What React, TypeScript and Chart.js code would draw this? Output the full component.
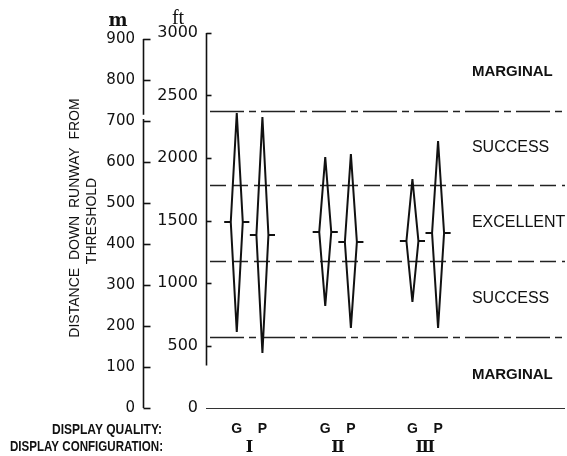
import React, { useEffect, useRef } from 'react';
import { Chart, registerables } from 'chart.js';

Chart.register(...registerables);

// ---- data (feet) ----
const configLabels = ['Ⅰ', 'Ⅱ', 'Ⅲ'];
const qualityLabels = ['G', 'P'];
const gX = [1.2, 4.65, 8.05];
const pX = [2.2, 5.65, 9.05];
const gTop = [2360, 2008, 1832];
const gMid = [1488, 1408, 1336];
const gBottom = [608, 816, 848];
const pTop = [2328, 2032, 2136];
const pMid = [1384, 1328, 1400];
const pBottom = [440, 640, 640];
const boundaryFt = [2380, 1780, 1180, 570];
const zoneLabels = ['MARGINAL', 'SUCCESS', 'EXCELLENT', 'SUCCESS', 'MARGINAL'];
const zoneLabelFt = [2690, 2080, 1480, 875, 265];
const zoneBold = [true, false, false, false, true];
const ftMax = 3000;
const ftStep = 500;
const mStep = 100;
const mTop = 900;
const M_PER_FT = 0.3048;

// ---- style constants ----
const X_MAX = 14;
const HALF_W = 0.234;
const TICK_W = 0.49;
const ZONE_X = 10.37;
const INK = '#111';

function diamond(x: number, top: number, mid: number, bottom: number) {
  return [
    { x: x - TICK_W, y: mid },
    { x: x - HALF_W, y: mid },
    { x: x, y: top },
    { x: x + HALF_W, y: mid },
    { x: x + TICK_W, y: mid },
    { x: x + HALF_W, y: mid },
    { x: x, y: bottom },
    { x: x - HALF_W, y: mid },
  ];
}

function fitText(ctx: CanvasRenderingContext2D, text: string, xRight: number, yc: number, width: number, font: string) {
  ctx.save();
  ctx.font = font;
  const w = ctx.measureText(text).width;
  const s = width / w;
  ctx.translate(xRight - width, yc);
  ctx.scale(s, 1);
  ctx.textAlign = 'left';
  ctx.textBaseline = 'middle';
  ctx.fillText(text, 0, 0);
  ctx.restore();
}

const annot = {
  id: 'annot',
  beforeDatasetsDraw(chart: any) {
    const ctx: CanvasRenderingContext2D = chart.ctx;
    const y = chart.scales.y;
    const ca = chart.chartArea;
    ctx.save();
    ctx.strokeStyle = '#222';
    ctx.lineWidth = 1.3;
    boundaryFt.forEach((v, i) => {
      const py = Math.round(y.getPixelForValue(v)) + 0.5;
      ctx.setLineDash(i === 0 || i === 3 ? [34, 5, 7, 5] : [16, 6]);
      ctx.beginPath();
      ctx.moveTo(ca.left + 4, py);
      ctx.lineTo(ca.right, py);
      ctx.stroke();
    });
    ctx.setLineDash([]);
    // baseline at 0 ft
    const by = Math.round(y.getPixelForValue(0)) + 0.5;
    ctx.strokeStyle = '#333';
    ctx.lineWidth = 1.2;
    ctx.beginPath();
    ctx.moveTo(ca.left, by);
    ctx.lineTo(ca.right, by);
    ctx.stroke();
    ctx.restore();
  },
  afterDraw(chart: any) {
    const ctx: CanvasRenderingContext2D = chart.ctx;
    const y = chart.scales.y;
    const ym = chart.scales.ym;
    const x = chart.scales.x;
    const ca = chart.chartArea;
    ctx.save();
    ctx.strokeStyle = INK;
    ctx.fillStyle = INK;
    ctx.lineWidth = 1.6;
    const line = (x1: number, y1: number, x2: number, y2: number) => {
      ctx.beginPath();
      ctx.moveTo(x1, y1);
      ctx.lineTo(x2, y2);
      ctx.stroke();
    };
    // metre axis (with the small break seen in the original)
    const mx = Math.round(ym.right) + 0.5;
    line(mx, ym.getPixelForValue(mTop), mx, ym.getPixelForValue(715));
    line(mx, ym.getPixelForValue(705), mx, ym.getPixelForValue(0));
    ym.ticks.forEach((t: any) => {
      const py = Math.round(ym.getPixelForValue(t.value)) + 0.5;
      line(mx, py, mx + 7, py);
    });
    // feet axis
    const fx = Math.round(ca.left) + 0.5;
    line(fx, y.getPixelForValue(ftMax), fx, y.getPixelForValue(340));
    y.ticks.forEach((t: any) => {
      if (t.value <= 0) return;
      const py = Math.round(y.getPixelForValue(t.value)) + 0.5;
      line(fx, py, fx + 5, py);
    });

    // unit labels
    ctx.textAlign = 'center';
    ctx.textBaseline = 'middle';
    ctx.font = 'bold 18px "DejaVu Serif", serif';
    ctx.fillText('m', 118, 21);
    ctx.font = '20px "Liberation Serif", serif';
    ctx.fillText('ft', 178, 19);

    // axis title (rotated)
    ctx.save();
    ctx.translate(75, 218);
    ctx.rotate(-Math.PI / 2);
    ctx.font = '14px "Liberation Sans", Arial, sans-serif';
    ctx.fillText('DISTANCE  DOWN  RUNWAY  FROM', 0, 0);
    ctx.restore();
    ctx.save();
    ctx.translate(92, 221);
    ctx.rotate(-Math.PI / 2);
    ctx.font = '14px "Liberation Sans", Arial, sans-serif';
    ctx.fillText('THRESHOLD', 0, 0);
    ctx.restore();

    // zone labels
    ctx.textAlign = 'left';
    zoneLabels.forEach((lab, i) => {
      ctx.font = (zoneBold[i] ? 'bold 15px ' : '16px ') + '"Liberation Sans", Arial, sans-serif';
      ctx.fillText(lab, x.getPixelForValue(ZONE_X), y.getPixelForValue(zoneLabelFt[i]));
    });

    // bottom labels
    ctx.textAlign = 'center';
    ctx.font = 'bold 14px "Liberation Sans", Arial, sans-serif';
    gX.forEach((gx, i) => {
      ctx.fillText(qualityLabels[0], x.getPixelForValue(gx), 429);
      ctx.fillText(qualityLabels[1], x.getPixelForValue(pX[i]), 429);
    });
    ctx.font = 'bold 16px "DejaVu Serif", serif';
    configLabels.forEach((lab, i) => {
      ctx.fillText(lab, x.getPixelForValue((gX[i] + pX[i]) / 2), 448);
    });
    fitText(ctx, 'DISPLAY QUALITY:', 162, 430, 110, 'bold 15px "Liberation Sans Narrow", "Liberation Sans", Arial, sans-serif');
    fitText(ctx, 'DISPLAY CONFIGURATION:', 163, 447, 153, 'bold 15px "Liberation Sans Narrow", "Liberation Sans", Arial, sans-serif');
    ctx.restore();
  },
};

export default function App() {
  const ref = useRef<HTMLCanvasElement | null>(null);
  useEffect(() => {
    if (!ref.current) return;
    const datasets: any[] = [];
    gX.forEach((gx, i) => {
      datasets.push({ data: diamond(gx, gTop[i], gMid[i], gBottom[i]) });
      datasets.push({ data: diamond(pX[i], pTop[i], pMid[i], pBottom[i]) });
    });
    datasets.forEach((d) => {
      d.showLine = true;
      d.borderColor = INK;
      d.borderWidth = 2;
      d.pointRadius = 0;
      d.fill = false;
      d.yAxisID = 'y';
    });
    const chart = new Chart(ref.current, {
      type: 'scatter',
      data: { datasets },
      plugins: [annot],
      options: {
        animation: false,
        responsive: false,
        layout: { padding: { left: 0, right: 2, top: 33, bottom: 48 } },
        plugins: { legend: { display: false }, tooltip: { enabled: false } },
        scales: {
          x: { type: 'linear', display: false, min: 0, max: X_MAX },
          y: {
            type: 'linear',
            position: 'left',
            weight: 0,
            min: 0,
            max: ftMax,
            grid: { display: false, drawTicks: false },
            border: { display: false },
            ticks: {
              stepSize: ftStep,
              color: INK,
              padding: 8,
              font: { family: '"DejaVu Sans", sans-serif', size: 16 },
              callback: (v: any) => String(v),
            },
            afterFit: (s: any) => { s.width = 63; },
          },
          ym: {
            type: 'linear',
            position: 'left',
            weight: 1,
            min: 0,
            max: ftMax * M_PER_FT,
            grid: { display: false, drawTicks: false },
            border: { display: false },
            ticks: {
              stepSize: mStep,
              includeBounds: false,
              color: INK,
              padding: 8,
              font: { family: '"DejaVu Sans", sans-serif', size: 15 },
              callback: (v: any) => String(v),
            },
            afterFit: (s: any) => { s.width = 143; },
          },
        },
      } as any,
    });
    return () => chart.destroy();
  }, []);
  return (
    <div style={{ position: 'fixed', left: 0, top: 0, width: 567, height: 456, background: '#fff' }}>
      <canvas ref={ref} width={567} height={456} style={{ display: 'block' }} />
    </div>
  );
}
